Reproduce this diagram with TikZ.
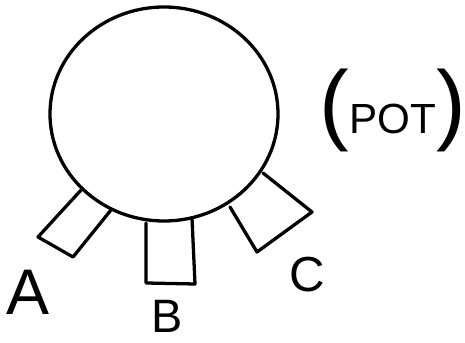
\documentclass[tikz,border=0pt]{standalone}
\usepackage{fontspec}
\setmainfont{Liberation Sans}
\usetikzlibrary{shapes.geometric}

\begin{document}
\begin{tikzpicture}[
  x=0.03cm, y=-0.03cm,
  ink/.style={line width=2.8pt, black, line join=round, line cap=round},
  body/.style={ellipse, draw, line width=2.8pt,
               minimum width=6.84cm, minimum height=6.42cm, inner sep=0pt},
  pin/.style={inner sep=0pt}
]
\useasboundingbox (0,0) rectangle (465,343);

% body of the pot
\node[body] (pot) at (164,114) {};

% the three legs
\draw[ink] (82,189) -- (38,237) -- (73,257) -- (111,210);
\draw[ink] (146,223) -- (146,283) -- (195,284) -- (192,218);
\draw[ink] (263,173) -- (312,212) -- (257,252) -- (230,207);

% labels
\node[pin, font=\fontsize{55}{55}\selectfont] (la) at (28,292) {A};
\node[pin, font=\fontsize{40}{40}\selectfont] (lb) at (167,316) {B};
\node[pin, font=\fontsize{42}{42}\selectfont] (lc) at (307,275) {C};
\node[pin, font=\fontsize{36}{36}\selectfont] (name) at (393,110)
  {{\fontsize{76}{76}\selectfont(}POT{\fontsize{76}{76}\selectfont)}};
\end{tikzpicture}
\end{document}
